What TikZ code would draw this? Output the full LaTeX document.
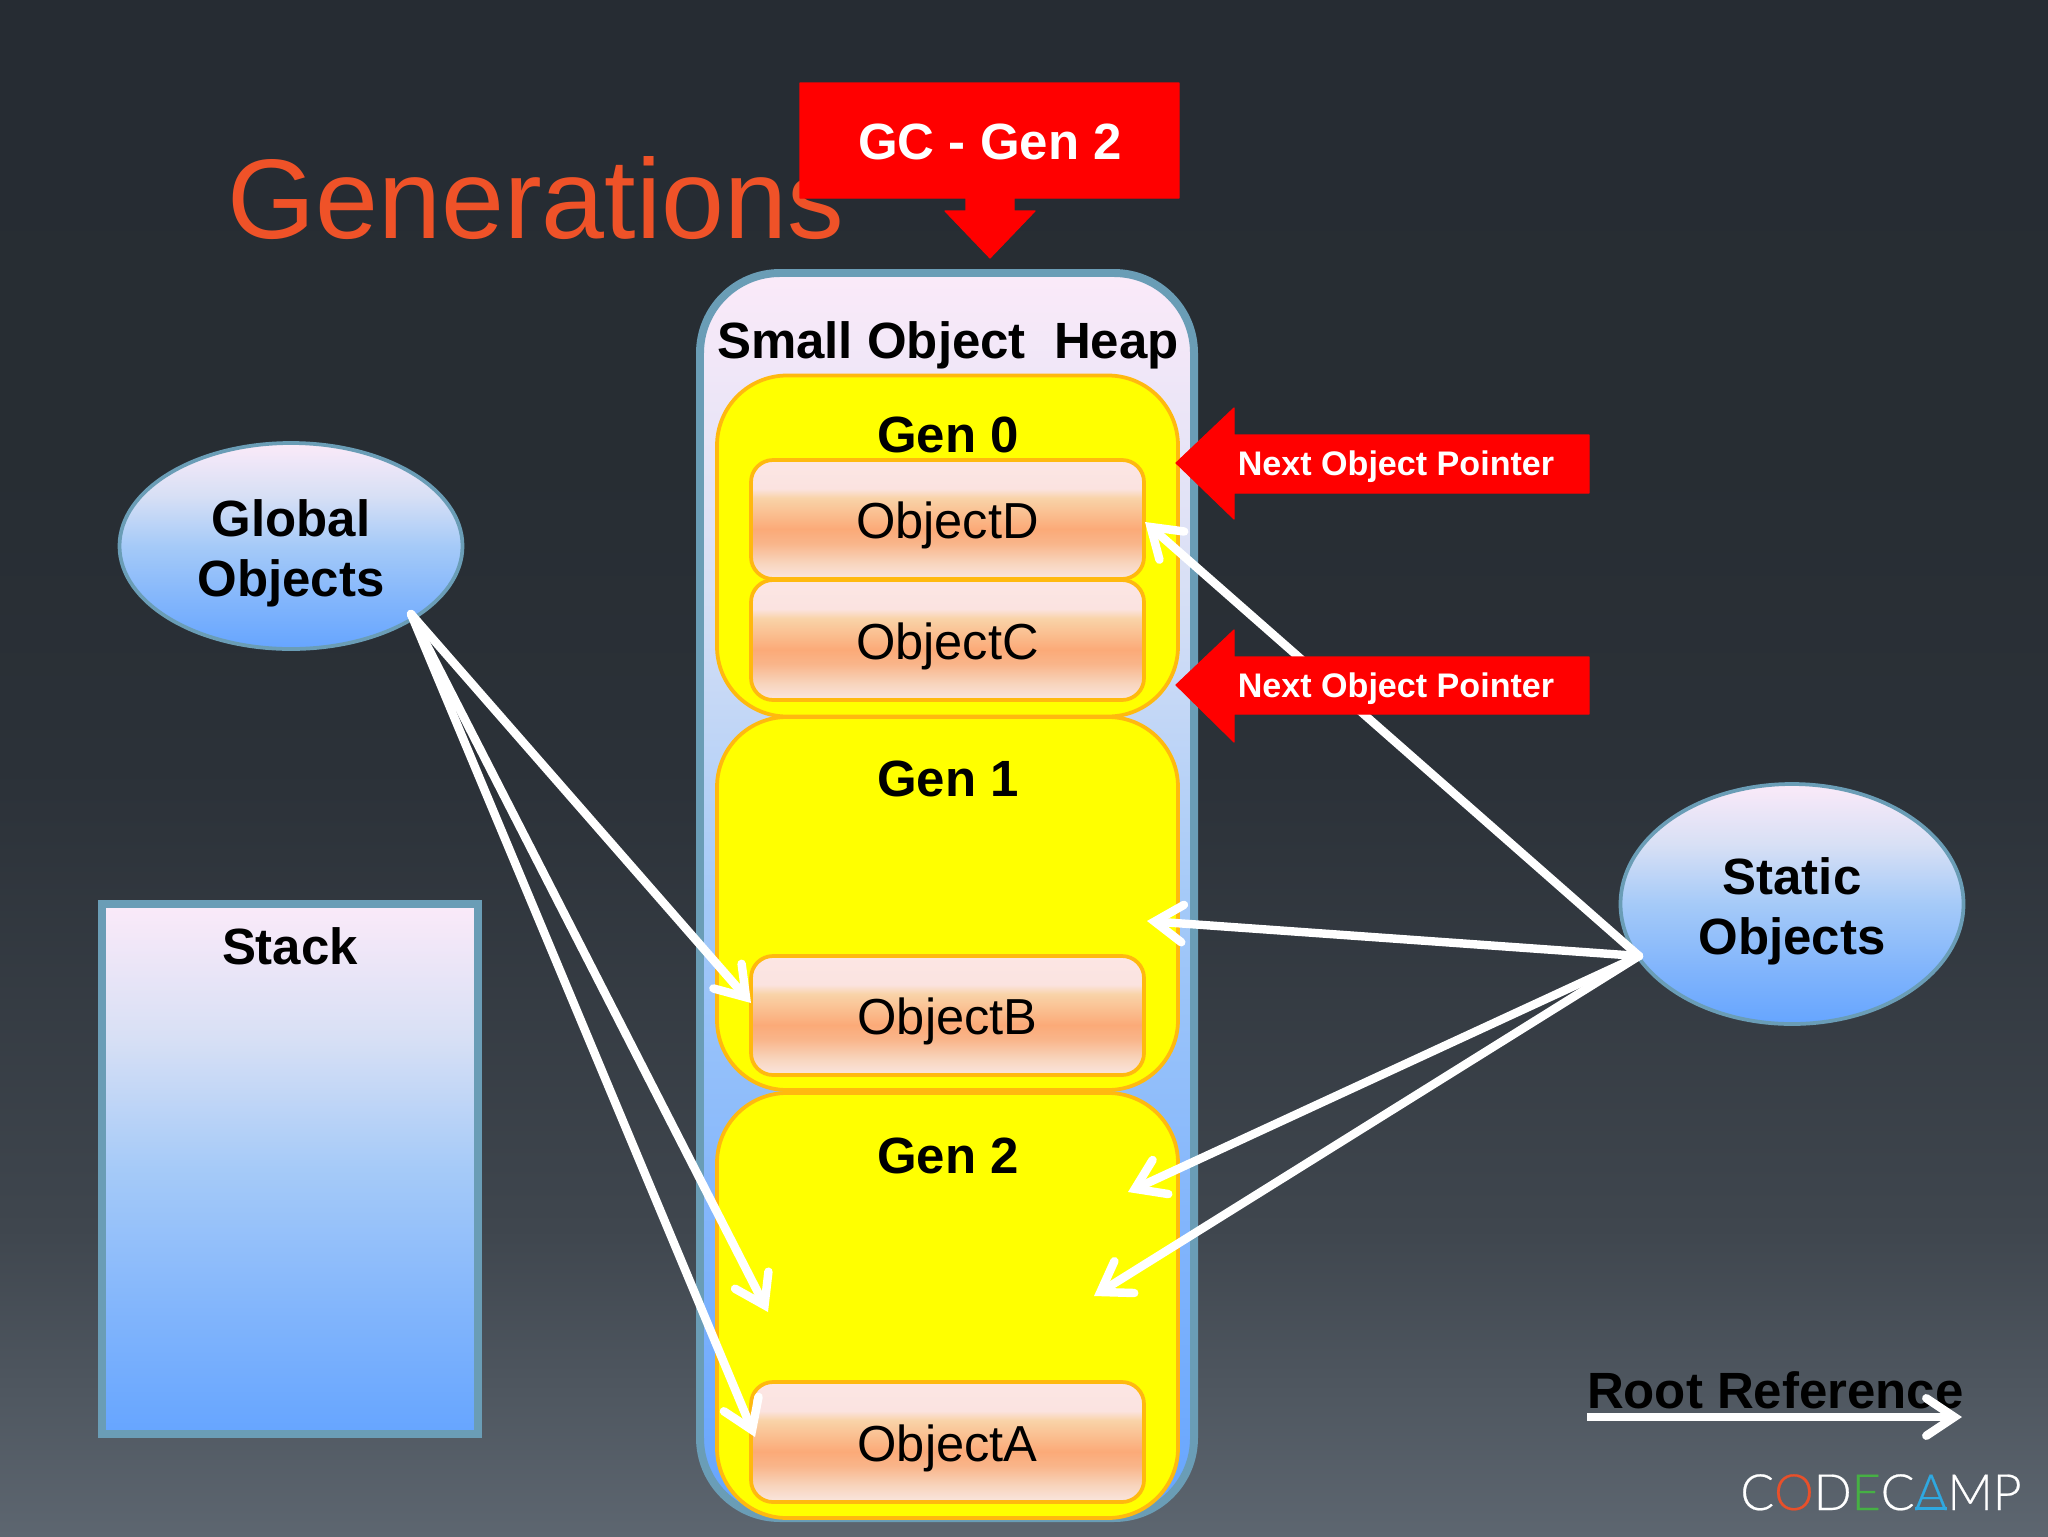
\documentclass[tikz,border=0pt]{standalone}
\usepackage{fontspec}
\setmainfont{Liberation Sans}
\newfontfamily\logofont[FakeBold=0.4]{Lato Light}
\usetikzlibrary{arrows.meta,shapes.geometric}
\def\px{0.03cm}
\definecolor{outlineblue}{HTML}{6A9DB6}
\definecolor{genedge}{HTML}{FFB90F}
\definecolor{genfill}{HTML}{FFFF00}
\definecolor{ptrred}{HTML}{FF0000}
\definecolor{titleorange}{HTML}{EF5228}
\definecolor{logoorange}{HTML}{E8502A}
\definecolor{logogreen}{HTML}{46B044}
\definecolor{logoblue}{HTML}{2FA8E0}
\definecolor{pga}{HTML}{5D6670}\definecolor{pgb}{HTML}{3F464E}\definecolor{pgc}{HTML}{2B3138}
\definecolor{pgd}{HTML}{272D33}\definecolor{pge}{HTML}{262C33}
\definecolor{pna}{HTML}{66A5FF}\definecolor{pnb}{HTML}{80B4FC}\definecolor{pnc}{HTML}{A5CAF8}
\definecolor{pnd}{HTML}{D8E0F5}\definecolor{pne}{HTML}{FBEAF9}
\definecolor{oba}{HTML}{FAE6E0}\definecolor{obb}{HTML}{F8D4BC}\definecolor{obc}{HTML}{F9B58A}\definecolor{obd}{HTML}{FBAA78}
\definecolor{obe}{HTML}{F9D3A8}\definecolor{obf}{HTML}{FBE3E0}\definecolor{obg}{HTML}{FCE6E4}
\pgfdeclareverticalshading{pageshade}{100bp}{
 color(0bp)=(pga);color(25bp)=(pga);
 color(35bp)=(pgb);color(50bp)=(pgc);color(60bp)=(pgd);
 color(75bp)=(pge);color(100bp)=(pge)}
\pgfdeclareverticalshading{panelshade}{100bp}{
 color(0bp)=(pna);color(25bp)=(pna);
 color(36bp)=(pnb);color(50bp)=(pnc);color(62.5bp)=(pnd);
 color(75bp)=(pne);color(100bp)=(pne)}
\pgfdeclareverticalshading{objshade}{100bp}{
 color(0bp)=(oba);color(25bp)=(oba);
 color(32bp)=(obb);color(40bp)=(obc);color(46bp)=(obd);
 color(59bp)=(obe);color(63bp)=(obf);
 color(75bp)=(obg);color(100bp)=(obg)}
\tikzset{
 boldtext/.style={font=\fontsize{43.5}{52}\selectfont\bfseries},
 panelstyle/.style={draw=outlineblue,line width=6.8pt,shading=panelshade,inner sep=0pt,outer sep=0pt},
 heapbox/.style={panelstyle,rectangle,rounded corners=2.4cm,minimum width=494*\px,minimum height=1245*\px},
 stackbox/.style={panelstyle,rectangle,minimum width=376*\px,minimum height=530*\px},
 orb/.style={draw=outlineblue,line width=3.2pt,shading=panelshade,ellipse,inner sep=0pt,outer sep=0pt,
   minimum width=343*\px,align=center,boldtext},
 genbox/.style={rectangle,draw=genedge,line width=3.2pt,fill=genfill,rounded corners=2.1cm,inner sep=0pt,outer sep=0pt,minimum width=461*\px},
 objbox/.style={rectangle,draw=genedge,line width=3.2pt,shading=objshade,rounded corners=0.66cm,inner sep=0pt,outer sep=0pt,
   minimum width=393*\px,text height=48*\px,text depth=10*\px,font=\fontsize{43.2}{52}\selectfont},
 lbl/.style={boldtext,anchor=base,inner sep=0pt,outer sep=0pt},
 ptrlbl/.style={font=\fontsize{29.1}{34}\selectfont\bfseries,text=white,anchor=base,inner sep=0pt},
 redshape/.style={fill=ptrred,draw=ptrred,line width=1pt,line join=round},
 conn/.style={draw=white,line width=7.2pt,line cap=round,
   -{Straight Barb[length=24pt,width=32pt,line cap=round,line join=miter]}},
}
\begin{document}
\begin{tikzpicture}[x=0.03cm,y=-0.03cm]
\useasboundingbox (0,0) rectangle (2048,1536);
\shade[shading=pageshade] (0,0) rectangle (2048,1536);

% title
\node[anchor=base west,inner sep=0pt,text=titleorange,font=\fontsize{96.6}{110}\selectfont] (title) at (227,238) {Generations};

% GC callout
\path[redshape] (800,83) -- (1179,83) -- (1179,198) -- (1014,198) -- (1014,211) -- (1035,211)
  -- (990,258) -- (945,211) -- (966,211) -- (966,198) -- (800,198) -- cycle;
\node[lbl,text=white] (gc) at (990,159) {GC - Gen 2};

% heap
\node[heapbox] (heap) at (947,895.5) {};
\node[lbl] (heaplabel) at (948,358) {Small Object\ \ Heap};

% generations
\node[genbox,minimum height=341*\px] (gen0) at (947.5,546) {};
\node[genbox,minimum height=373*\px] (gen1) at (947.5,903.5) {};
\node[genbox,minimum height=425*\px] (gen2) at (947.5,1305.5) {};
\node[lbl] (gen0label) at (948,452) {Gen 0};
\node[lbl] (gen1label) at (948,796) {Gen 1};
\node[lbl] (gen2label) at (948,1173) {Gen 2};

% objects
\node[objbox,minimum height=119*\px] (objd) at (947.5,519.5) {ObjectD};
\node[objbox,minimum height=120*\px] (objc) at (947.5,640) {ObjectC};
\node[objbox,minimum height=119*\px] (objb) at (947.5,1015.5) {ObjectB};
\node[objbox,minimum height=120*\px] (obja) at (947.5,1442) {ObjectA};

% roots
\node[orb,minimum height=206*\px] (global) at (291,546) {\rule{0pt}{44pt}Global\\Objects};
\node[orb,minimum height=240*\px] (static) at (1792,904) {\rule{0pt}{44pt}Static\\Objects};
\node[stackbox] (stack) at (290,1169) {};
\node[lbl] (stacklabel) at (290,964) {Stack};

% connector ends
\coordinate (gfrom) at (411,614);
\coordinate (sfrom) at (1639,956);
\coordinate (tob) at (751,1003);
\coordinate (tog2) at (768,1312);
\coordinate (toa) at (755,1437);
\coordinate (tod) at (1145,522);
\coordinate (tog1) at (1147,921);
\coordinate (tog2a) at (1128,1192);
\coordinate (tog2b) at (1094,1296);

\draw[conn] (gfrom) -- (tob);
\draw[conn] (gfrom) -- (tog2);
\draw[conn] (gfrom) -- (toa);
\draw[conn] (sfrom) -- (tod);
\draw[conn] (sfrom) -- (tog1);
\draw[conn] (sfrom) -- (tog2a);
\draw[conn] (sfrom) -- (tog2b);

% next object pointers
\path[redshape] (1176,463) -- (1234,408) -- (1234,435) -- (1589,435) -- (1589,493) -- (1234,493) -- (1234,519) -- cycle;
\node[ptrlbl] (ptr1) at (1396,475) {Next Object Pointer};
\path[redshape] (1176,685) -- (1234,630) -- (1234,657) -- (1589,657) -- (1589,714) -- (1234,714) -- (1234,742) -- cycle;
\node[ptrlbl] (ptr2) at (1396,697) {Next Object Pointer};

% legend
\node[lbl,anchor=base west] (root) at (1587,1408) {Root Reference};
\coordinate (rootstart) at (1587,1417);
\coordinate (rootend) at (1962,1417);
\draw[conn,line cap=butt] (rootstart) -- (rootend);

% logo
\node[anchor=base,inner sep=0pt,font=\fontsize{42.7}{50}\selectfont\logofont,text=white] (logo) at (1881,1510)
  {C{\color{logoorange}O}D{\color{logogreen}E}C{\color{logoblue}A}MP};
\draw[logoblue,line width=2.4pt] (1915,1508.5) -- (1947,1508.5);
\end{tikzpicture}
\end{document}
